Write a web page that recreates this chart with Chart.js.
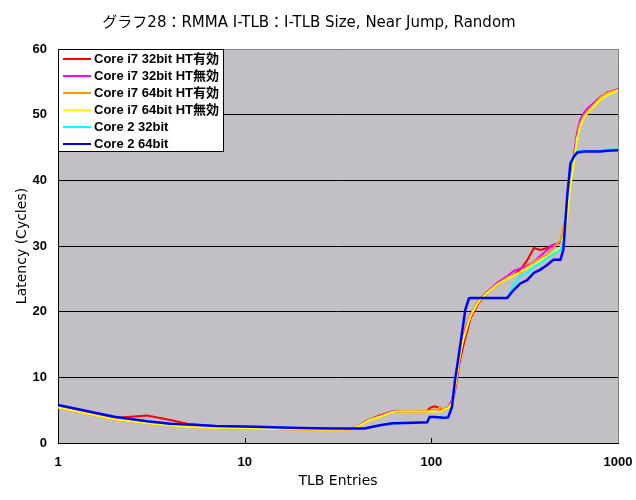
<!DOCTYPE html>
<html>
<head>
<meta charset="utf-8">
<script src="https://cdn.jsdelivr.net/npm/chart.js@4.4.1/dist/chart.umd.min.js"></script>
<style>
  body { margin: 0; background: #fff; }
  #wrap { width: 636px; height: 500px; }
</style>
</head>
<body>
<div id="wrap"><canvas id="chart" width="636" height="500"></canvas></div>
<script>
// TLB entries (x) and latency in cycles for each CPU / mode
const entries = [1, 2, 3, 4, 5, 6, 7, 10, 20, 30,
  37, 42, 44, 47, 53, 62, 64, 80, 95, 98,
  104, 112, 116, 123, 129, 134, 140, 146, 152, 159,
  162, 169, 179, 199, 225, 255, 276, 300, 326, 354,
  384, 417, 451, 492, 510, 534, 556, 580, 603, 627,
  656, 684, 742, 805, 875, 1000];

const i7_32_htOn = [5.5, 3.8, 4.2, 3.5, 2.9, 2.7, 2.55, 2.25, 2.1, 2.0,
  2.05, 2.8, 3.2, 3.6, 4.2, 4.8, 4.8, 4.8, 4.9, 5.3,
  5.6, 5.3, 5.0, 5.3, 6.0, 8.0, 11.5, 14.0, 16.0, 18.0,
  19.0, 20.0, 21.3, 22.8, 24.1, 25.1, 25.6, 26.4, 27.8, 29.7,
  29.4, 29.7, 30.2, 30.5, 31.8, 34.5, 39.5, 43.3, 46.8, 48.8,
  50.0, 50.6, 51.6, 52.6, 53.4, 53.8];

const i7_32_htOff = [5.4, 3.6, 3.0, 2.7, 2.5, 2.4, 2.3, 2.2, 2.05, 2.0,
  2.1, 2.8, 3.2, 3.6, 4.1, 4.8, 4.9, 4.8, 4.8, 4.9,
  5.0, 4.9, 5.1, 5.4, 6.5, 9.0, 12.8, 15.6, 17.4, 19.0,
  19.6, 20.5, 21.7, 23.0, 24.4, 25.4, 26.2, 26.6, 27.0, 27.6,
  28.5, 29.4, 30.2, 30.5, 32.0, 35.0, 40.0, 43.8, 47.3, 49.2,
  50.3, 50.9, 51.8, 52.7, 53.3, 53.9];

const i7_64_htOn = [5.4, 3.6, 3.0, 2.65, 2.45, 2.35, 2.3, 2.2, 2.05, 2.0,
  2.05, 2.75, 3.1, 3.5, 4.0, 4.7, 4.8, 4.8, 4.8, 4.9,
  5.0, 5.4, 5.2, 5.3, 6.2, 8.8, 12.0, 15.2, 17.0, 18.8,
  19.4, 20.4, 21.6, 22.9, 24.2, 25.2, 25.6, 25.9, 26.8, 27.6,
  28.2, 28.7, 29.8, 30.9, 33.0, 35.5, 39.5, 43.0, 46.5, 48.6,
  49.8, 50.5, 51.5, 52.6, 53.3, 53.8];

const i7_64_htOff = [5.4, 3.6, 3.0, 2.65, 2.45, 2.35, 2.3, 2.2, 2.05, 2.0,
  2.05, 2.75, 3.1, 3.5, 4.0, 4.7, 4.8, 4.8, 4.8, 4.8,
  4.8, 4.8, 5.0, 5.3, 6.0, 8.5, 12.2, 15.0, 16.8, 18.6,
  19.3, 20.3, 21.5, 22.8, 24.1, 25.0, 25.5, 26.1, 26.6, 27.1,
  27.7, 28.4, 29.0, 29.8, 31.5, 34.0, 39.1, 42.6, 46.2, 48.2,
  49.5, 50.2, 51.3, 52.3, 53.0, 53.7];

const core2_32 = [5.8, 4.0, 3.3, 2.95, 2.8, 2.7, 2.6, 2.5, 2.3, 2.2,
  2.2, 2.2, 2.2, 2.4, 2.7, 3.0, 3.0, 3.1, 3.15, 3.95,
  3.95, 3.9, 3.85, 3.9, 5.5, 9.6, 13.2, 16.8, 20.3, 22.0,
  22.1, 22.1, 22.1, 22.1, 22.1, 22.1, 24.0, 25.4, 25.9, 26.9,
  27.4, 28.2, 28.8, 29.4, 31.0, 37.0, 42.0, 43.6, 44.4, 44.5,
  44.6, 44.6, 44.6, 44.6, 44.7, 44.7];

const core2_64 = [5.8, 4.0, 3.3, 2.95, 2.8, 2.7, 2.6, 2.5, 2.3, 2.2,
  2.2, 2.2, 2.2, 2.4, 2.7, 3.0, 3.0, 3.1, 3.15, 3.95,
  3.95, 3.9, 3.85, 3.9, 5.5, 9.6, 13.2, 16.8, 20.3, 22.0,
  22.1, 22.1, 22.1, 22.1, 22.1, 22.1, 23.3, 24.3, 24.8, 25.9,
  26.4, 27.1, 27.9, 27.9, 29.5, 37.5, 42.6, 43.6, 44.2, 44.3,
  44.4, 44.4, 44.4, 44.4, 44.5, 44.6];

const seriesNames = ['Core i7 32bit HT有効', 'Core i7 32bit HT無効', 'Core i7 64bit HT有効',
  'Core i7 64bit HT無効', 'Core 2 32bit', 'Core 2 64bit'];
const seriesValues = [i7_32_htOn, i7_32_htOff, i7_64_htOn, i7_64_htOff, core2_32, core2_64];
const seriesColors = ['#ff0000', '#ff00ff', '#ff9900', '#ffff00', '#00ffff', '#0000ff'];
const xTicks = [1, 10, 100, 1000];
const yTicks = [0, 10, 20, 30, 40, 50, 60];

const sans = '"DejaVu Sans", "Noto Sans CJK JP", sans-serif';
const tickFamily = '"Liberation Sans", "Noto Sans CJK JP", sans-serif';

// gray plot area
const plotBg = {
  id: 'plotBg',
  beforeDraw(chart) {
    const {ctx, chartArea: a} = chart;
    ctx.save();
    ctx.fillStyle = '#c2c0c5';
    ctx.fillRect(a.left, a.top, a.right - a.left, a.bottom - a.top);
    ctx.restore();
  }
};

// right border, inner x ticks and the legend box inside the plot
const frameAndLegend = {
  id: 'frameAndLegend',
  afterDatasetsDraw(chart) {
    const {ctx, chartArea: a} = chart;
    const xs = chart.scales.x;
    ctx.save();
    ctx.strokeStyle = '#808080';
    ctx.lineWidth = 1;
    ctx.beginPath();
    ctx.moveTo(Math.round(a.right) + 0.5, a.top);
    ctx.lineTo(Math.round(a.right) + 0.5, a.bottom);
    ctx.stroke();

    ctx.strokeStyle = '#000';
    xTicks.slice(1, -1).forEach(v => {
      const px = Math.round(xs.getPixelForValue(v)) + 0.5;
      ctx.beginPath();
      ctx.moveTo(px, a.bottom);
      ctx.lineTo(px, a.bottom - 5);
      ctx.stroke();
    });

    const x0 = Math.round(a.left), y0 = Math.round(a.top);
    ctx.fillStyle = '#fff';
    ctx.fillRect(x0, y0, 165, 102);
    ctx.strokeStyle = '#000';
    ctx.strokeRect(x0 + 0.5, y0 + 0.5, 165, 102);
    ctx.font = 'bold 13px ' + tickFamily;
    ctx.textBaseline = 'middle';
    seriesNames.forEach((name, i) => {
      const y = y0 + 10 + i * 17;
      ctx.strokeStyle = seriesColors[i];
      ctx.lineWidth = 2;
      ctx.beginPath();
      ctx.moveTo(x0 + 5, y);
      ctx.lineTo(x0 + 33, y);
      ctx.stroke();
      ctx.fillStyle = '#000';
      ctx.fillText(name, x0 + 36, y);
    });
    ctx.restore();
  }
};

const datasets = seriesValues.map((vals, i) => ({
  label: seriesNames[i],
  data: entries.map((x, j) => ({x: x, y: vals[j]})),
  borderColor: seriesColors[i],
  backgroundColor: seriesColors[i],
  borderWidth: i === 5 ? 2.5 : 2,
  pointRadius: 0,
  tension: 0,
  fill: false,
  order: 6 - i
}));

new Chart(document.getElementById('chart'), {
  type: 'line',
  data: {datasets: datasets},
  options: {
    responsive: false,
    animation: false,
    layout: {padding: {left: 0, right: 18, top: 0, bottom: 0}},
    plugins: {
      legend: {display: false},
      tooltip: {enabled: false},
      title: {
        display: true,
        text: 'グラフ28：RMMA I-TLB：I-TLB Size, Near Jump, Random',
        color: '#000',
        font: {family: sans, size: 15, weight: 'normal'},
        padding: {top: 14, bottom: 17}
      }
    },
    scales: {
      x: {
        type: 'logarithmic',
        min: 1,
        max: 1000,
        afterBuildTicks(scale) { scale.ticks = xTicks.map(v => ({value: v})); },
        afterFit(scale) {
          scale.height = 57;
          scale.paddingRight = 0;
          scale.paddingLeft = 0;
        },
        ticks: {
          color: '#000',
          font: {family: tickFamily, size: 13, weight: 'bold'},
          padding: 12,
          maxRotation: 0,
          autoSkip: false,
          callback: v => String(v)
        },
        grid: {display: false, drawTicks: false},
        border: {display: true, color: '#000', width: 1},
        title: {
          display: true,
          text: 'TLB Entries',
          color: '#000',
          font: {family: sans, size: 14, weight: 'normal'},
          padding: {top: 0, bottom: 10}
        }
      },
      y: {
        min: 0,
        max: 60,
        afterBuildTicks(scale) { scale.ticks = yTicks.map(v => ({value: v})); },
        afterFit(scale) { scale.width = 58; },
        ticks: {
          color: '#000',
          font: {family: tickFamily, size: 13, weight: 'bold'},
          padding: 11
        },
        grid: {
          drawTicks: false,
          color: c => (c.tick && c.tick.value === 60) ? '#808080' : '#000',
          lineWidth: 1
        },
        border: {display: true, color: '#000', width: 1},
        title: {
          display: true,
          text: 'Latency (Cycles)',
          color: '#000',
          font: {family: sans, size: 14, weight: 'normal'},
          padding: {top: 14, bottom: 0}
        }
      }
    }
  },
  plugins: [plotBg, frameAndLegend]
});
</script>
</body>
</html>
